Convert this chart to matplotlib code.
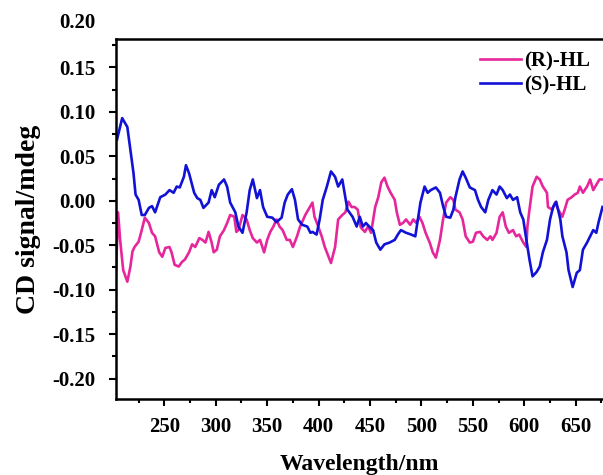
import matplotlib
matplotlib.use("Agg")
import matplotlib.pyplot as plt
from matplotlib.ticker import MultipleLocator

plt.rcParams['font.family'] = ['Liberation Serif', 'DejaVu Serif']
plt.rcParams['font.weight'] = 'bold'

# CD spectra: wavelength (nm) and signal (mdeg)
wl_r = [203, 205, 207, 210, 214, 217, 219, 221, 225, 228,
        231, 235, 238, 241, 245, 248, 251, 255, 257, 260,
        264, 267, 270, 274, 277, 280, 284, 287, 290, 293,
        296, 298, 301, 304, 308, 311, 314, 318, 320, 322,
        326, 330, 333, 336, 340, 343, 347, 350, 353, 356,
        359, 362, 365, 369, 372, 375, 379, 382, 387, 390,
        394, 396, 399, 403, 406, 409, 412, 416, 419, 423,
        426, 429, 432, 435, 438, 441, 445, 448, 451, 455,
        458, 461, 464, 467, 470, 474, 476, 479, 482, 485,
        489, 492, 495, 498, 501, 504, 508, 511, 514, 518,
        521, 524, 528, 531, 533, 537, 540, 543, 547, 550,
        553, 557, 560, 564, 567, 569, 573, 576, 579, 582,
        585, 589, 592, 595, 599, 602, 603, 605, 608, 612,
        615, 618, 622, 623, 627, 630, 633, 637, 640, 642,
        646, 649, 652, 654, 657, 661, 664, 667, 671, 673, 676]
cd_r = [-0.081, -0.013, -0.044, -0.078, -0.091, -0.074, -0.057, -0.052, -0.046, -0.033,
        -0.019, -0.025, -0.036, -0.040, -0.058, -0.063, -0.053, -0.052, -0.058, -0.072,
        -0.074, -0.069, -0.066, -0.058, -0.049, -0.052, -0.042, -0.044, -0.047, -0.035,
        -0.047, -0.058, -0.055, -0.040, -0.033, -0.025, -0.016, -0.018, -0.035, -0.033,
        -0.016, -0.021, -0.033, -0.042, -0.047, -0.044, -0.058, -0.044, -0.035, -0.029,
        -0.021, -0.029, -0.033, -0.044, -0.044, -0.052, -0.040, -0.029, -0.016, -0.010,
        -0.002, -0.018, -0.027, -0.040, -0.052, -0.061, -0.070, -0.052, -0.021, -0.016,
        -0.013, -0.001, -0.007, -0.007, -0.010, -0.030, -0.035, -0.029, -0.036, -0.007,
        0.004, 0.021, 0.026, 0.016, 0.009, 0.001, -0.013, -0.027, -0.025, -0.021,
        -0.027, -0.021, -0.025, -0.018, -0.025, -0.036, -0.047, -0.058, -0.064, -0.044,
        -0.021, -0.002, 0.004, 0.001, -0.010, -0.013, -0.021, -0.040, -0.047, -0.046,
        -0.036, -0.035, -0.040, -0.044, -0.040, -0.044, -0.036, -0.018, -0.013, -0.029,
        -0.036, -0.033, -0.040, -0.038, -0.047, -0.052, -0.029, -0.010, 0.016, 0.027,
        0.024, 0.016, 0.009, -0.007, -0.010, -0.002, -0.010, -0.018, -0.007, 0.001,
        0.004, 0.007, 0.009, 0.016, 0.009, 0.016, 0.024, 0.012, 0.020, 0.024, 0.024]

wl_s = [204, 209, 214, 217, 220, 222, 225, 228, 231, 235,
        238, 241, 246, 251, 255, 259, 262, 265, 269, 271,
        274, 279, 282, 285, 288, 293, 296, 299, 303, 308,
        311, 314, 319, 322, 326, 330, 333, 336, 340, 343,
        346, 350, 355, 359, 364, 367, 370, 374, 377, 380,
        384, 389, 392, 394, 398, 401, 404, 408, 412, 416,
        419, 423, 426, 428, 433, 437, 440, 443, 446, 450,
        453, 456, 460, 464, 469, 474, 477, 480, 485, 490,
        494, 496, 499, 503, 506, 509, 514, 518, 521, 524,
        528, 531, 533, 537, 540, 543, 547, 552, 555, 558,
        562, 565, 569, 573, 576, 579, 583, 586, 589, 593,
        596, 599, 602, 605, 608, 612, 615, 618, 622, 625,
        628, 631, 635, 637, 641, 643, 647, 651, 654, 657,
        661, 664, 667, 670, 672, 676]
cd_s = [0.069, 0.093, 0.083, 0.057, 0.031, 0.007, 0.001, -0.016, -0.016, -0.008,
        -0.006, -0.013, 0.004, 0.007, 0.012, 0.009, 0.016, 0.015, 0.027, 0.040,
        0.031, 0.009, 0.003, 0.001, -0.008, -0.002, 0.012, 0.004, 0.018, 0.024,
        0.016, -0.002, -0.013, -0.029, -0.036, -0.013, 0.012, 0.024, 0.003, 0.012,
        -0.007, -0.018, -0.019, -0.024, -0.019, -0.002, 0.007, 0.013, 0.001, -0.021,
        -0.027, -0.029, -0.036, -0.035, -0.038, -0.021, 0.001, 0.016, 0.033, 0.027,
        0.016, 0.024, 0.004, -0.010, -0.018, -0.029, -0.018, -0.029, -0.025, -0.030,
        -0.033, -0.047, -0.055, -0.049, -0.047, -0.044, -0.038, -0.033, -0.036, -0.038,
        -0.040, -0.025, -0.002, 0.016, 0.009, 0.012, 0.015, 0.009, -0.006, -0.018,
        -0.019, -0.010, 0.004, 0.024, 0.033, 0.026, 0.015, 0.012, 0.001, -0.007,
        -0.013, 0.001, 0.012, 0.007, 0.016, 0.012, 0.003, 0.007, 0.001, 0.004,
        -0.013, -0.021, -0.044, -0.066, -0.085, -0.080, -0.074, -0.058, -0.044, -0.021,
        -0.007, -0.001, -0.021, -0.040, -0.058, -0.078, -0.097, -0.081, -0.078, -0.055,
        -0.047, -0.040, -0.033, -0.036, -0.025, -0.007]

labels = ['(R)-HL', '(S)-HL']
colors = ['#E6279B', '#1212D6']

fig = plt.figure(figsize=(6.03, 4.75), dpi=100)
ax = fig.add_axes([0.1924, 0.16, 0.8076, 0.7579])

ax.plot(wl_r, cd_r, color=colors[0], lw=1.9, label=labels[0])
ax.plot(wl_s, cd_s, color=colors[1], lw=1.9, label=labels[1])

ax.set_xlim(203, 676.5)
ax.set_ylim(-0.223, 0.182)
ax.xaxis.set_major_locator(MultipleLocator(50))
ax.xaxis.set_minor_locator(MultipleLocator(25))
ax.yaxis.set_major_locator(MultipleLocator(0.05))
ax.yaxis.set_minor_locator(MultipleLocator(0.025))
ax.yaxis.set_major_formatter(lambda v, pos: f'{v:.2f}')

ax.spines['right'].set_visible(False)
for s in ['left', 'bottom', 'top']:
    ax.spines[s].set_linewidth(1.8)
ax.tick_params(which='major', direction='out', length=5, width=1.5,
               labelsize=15, pad=8)
ax.tick_params(axis='y', which='major', pad=10)
ax.tick_params(which='minor', direction='out', length=3, width=1.5)
ax.tick_params(top=False, right=False, which='both')

# top tick label sits above the frame
ax.annotate('0.20', xy=(0, 0.20), xycoords=('axes fraction', 'data'),
            xytext=(-15, 0), textcoords='offset points',
            ha='right', va='center', fontsize=15, fontweight='bold',
            annotation_clip=False)

ax.set_xlabel('Wavelength/nm', fontsize=17, fontweight='bold', labelpad=12)
ax.set_ylabel('CD signal/mdeg', fontsize=20, fontweight='bold', labelpad=8)

ax.legend(loc='upper right', bbox_to_anchor=(1.0, 1.0), frameon=False,
          fontsize=15, handlelength=2.0, handletextpad=0.15,
          labelspacing=0.2, borderaxespad=0.2)

fig.savefig('out.png', dpi=100)
